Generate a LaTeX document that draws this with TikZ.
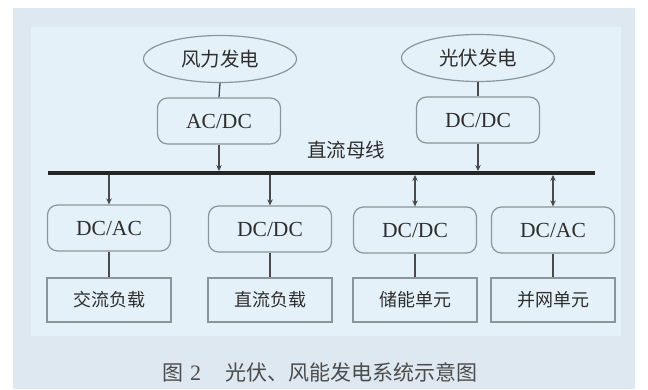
\documentclass[tikz,border=0pt]{standalone}
\usepackage{fontspec}
\setmainfont{Liberation Serif}
\newfontfamily\cjk{Noto Sans CJK SC}
\usetikzlibrary{shapes.geometric,arrows.meta}
\definecolor{outerbg}{HTML}{DDE8F1}
\definecolor{innerbg}{HTML}{E4F1F8}
\definecolor{boxline}{HTML}{8C9599}
\definecolor{conn}{HTML}{4A4A4A}
\definecolor{txt}{HTML}{2E2E2E}
\tikzset{
  src/.style={ellipse,draw=boxline,line width=1.2pt,minimum width=153pt,minimum height=47pt,inner sep=0pt,
    font=\cjk\fontsize{19.5}{21}\selectfont,text=txt},
  conv/.style={draw=boxline,line width=1.2pt,rounded corners=10pt,minimum width=123pt,minimum height=46pt,
    inner sep=0pt,font=\fontsize{21.5}{23}\selectfont,text=txt},
  load/.style={draw=boxline,line width=1.2pt,minimum width=124pt,minimum height=44pt,inner sep=0pt,
    font=\cjk\fontsize{18}{20}\selectfont,text=txt},
  wire/.style={draw=conn,line width=1.3pt},
  arr/.style={wire,-{Stealth[length=6pt,width=5.5pt]}},
  darr/.style={wire,{Stealth[length=6pt,width=5.5pt]}-{Stealth[length=6pt,width=5.5pt]}},
}
\begin{document}
\begin{tikzpicture}[x=1pt,y=-1pt]
\useasboundingbox (0,0) rectangle (648,389);
\fill[white] (0,0) rectangle (648,389);
\fill[outerbg] (13,8) rectangle (635,389);
\fill[innerbg] (31,27) rectangle (621,336);

% sources
\node[src] (wind) at (220,59) {风力发电};
\node[src] (pv) at (478,58) {光伏发电};
% top converters
\node[conv] (acdc) at (219,121) {AC/DC};
\node[conv] (dcdc1) at (478,120) {DC/DC};
% bus
\node[fill=black!85,minimum width=547pt,minimum height=3.5pt,inner sep=0pt] (bus) at (321.5,173) {};
\node[font=\cjk\fontsize{19.5}{21}\selectfont,text=txt] (buslabel) at (346,150) {直流母线};
% bottom converters
\node[conv] (c1) at (109,228) {DC/AC};
\node[conv] (c2) at (270,229) {DC/DC};
\node[conv] (c3) at (415,230) {DC/DC};
\node[conv] (c4) at (553,230) {DC/AC};
% loads
\node[load] (l1) at (109,300) {交流负载};
\node[load] (l2) at (270,300) {直流负载};
\node[load] (l3) at (415,300) {储能单元};
\node[load] (l4) at (553,300) {并网单元};

% connectors
\draw[wire] (wind.south) -- (acdc.north);
\draw[wire] (pv.south) -- (dcdc1.north);
\draw[arr] (acdc.south) -- (acdc.south |- bus.north);
\draw[arr] (dcdc1.south) -- (dcdc1.south |- bus.north);
\draw[arr] (bus.south -| c1.north) -- (c1.north);
\draw[arr] (bus.south -| c2.north) -- (c2.north);
\draw[darr] (bus.south -| c3.north) -- (c3.north);
\draw[darr] (bus.south -| c4.north) -- (c4.north);
\draw[wire] (c1.south) -- (l1.north);
\draw[wire] (c2.south) -- (l2.north);
\draw[wire] (c3.south) -- (l3.north);
\draw[wire] (c4.south) -- (l4.north);

% caption
\node[text=black!70,anchor=west,inner sep=0pt] (cap) at (162,372) {{\cjk\fontsize{21}{23}\selectfont 图}\hspace{7pt}{\fontsize{22}{24}\selectfont 2}\hspace{24pt}{\cjk\fontsize{21}{23}\selectfont 光伏、风能发电系统示意图}};
\end{tikzpicture}
\end{document}
